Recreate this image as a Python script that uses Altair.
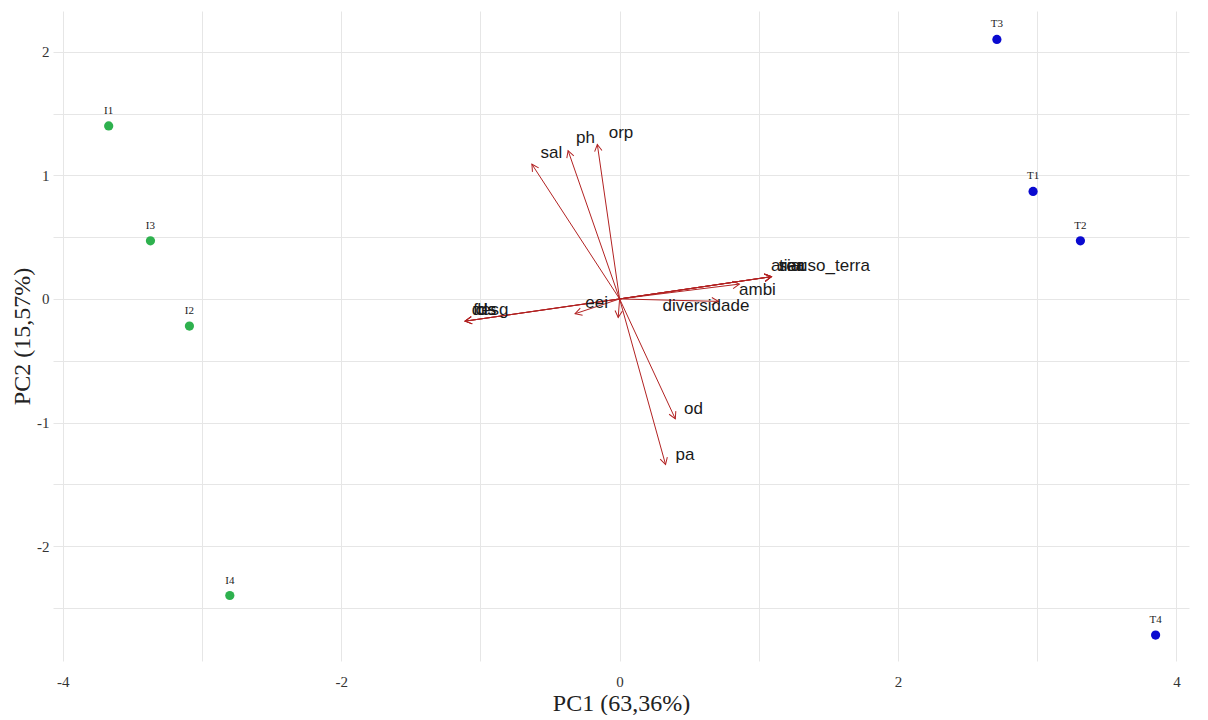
import altair as alt
import pandas as pd
import numpy as np

# Sample scores
sample_names = ["I1", "I2", "I3", "I4", "T1", "T2", "T3", "T4"]
sample_pc1 = [-3.67, -3.09, -3.37, -2.80, 2.97, 3.31, 2.71, 3.85]
sample_pc2 = [1.40, -0.22, 0.47, -2.40, 0.87, 0.47, 2.10, -2.72]
sample_group = ["I", "I", "I", "I", "T", "T", "T", "T"]

# Variable loadings (arrow tips)
var_names = ["sal", "ph", "orp", "uso_terra", "area", "tiar", "siar", "ambi",
             "diversidade", "fds", "desg", "cls", "eei", "", "od", "pa"]
var_pc1 = [-0.63, -0.37, -0.16, 1.09, 1.09, 1.09, 1.09, 0.86,
           0.71, -1.11, -1.11, -1.11, -0.32, -0.01, 0.40, 0.33]
var_pc2 = [1.09, 1.20, 1.25, 0.18, 0.18, 0.18, 0.18, 0.12,
           -0.02, -0.18, -0.18, -0.18, -0.12, -0.15, -0.97, -1.34]
# Label anchor positions
lab_pc1 = [-0.49, -0.245, 0.01, 1.54, 1.21, 1.23, 1.24, 0.99,
           0.62, -0.97, -0.93, -0.96, -0.165, 0.0, 0.53, 0.47]
lab_pc2 = [1.18, 1.30, 1.34, 0.27, 0.27, 0.27, 0.27, 0.07,
           -0.06, -0.09, -0.09, -0.09, -0.03, 0.0, -0.89, -1.26]

X_DOM = [-4.07, 4.09]
Y_DOM = [-2.93, 2.33]
W, H = 1136, 650

samples = pd.DataFrame({"name": sample_names, "pc1": sample_pc1,
                        "pc2": sample_pc2, "group": sample_group})
sx = W / (X_DOM[1] - X_DOM[0])
sy = H / (Y_DOM[1] - Y_DOM[0])
vars_df = pd.DataFrame({"name": var_names, "pc1": var_pc1, "pc2": var_pc2,
                        "lx": lab_pc1, "ly": lab_pc2})
vars_df["x0"] = 0.0
vars_df["y0"] = 0.0
vars_df["angle"] = (np.degrees(np.arctan2(vars_df["pc1"] * sx, vars_df["pc2"] * sy)) + 360) % 360

xs = alt.Scale(domain=X_DOM, nice=False, zero=False)
ys = alt.Scale(domain=Y_DOM, nice=False, zero=False)

x_axis = alt.Axis(values=list(range(-4, 5)),
                  labelExpr="datum.value % 2 == 0 ? (datum.value < 0 ? '-' : '') + abs(datum.value) : ''",
                  title="PC1 (63,36%)")
y_axis = alt.Axis(values=[v / 2 for v in range(-5, 5)],
                  labelExpr="datum.value % 1 == 0 ? (datum.value < 0 ? '-' : '') + abs(datum.value) : ''",
                  title="PC2 (15,57%)")

base_pts = alt.Chart(samples)
points = base_pts.mark_circle(size=85, opacity=1).encode(
    x=alt.X("pc1:Q", scale=xs, axis=x_axis),
    y=alt.Y("pc2:Q", scale=ys, axis=y_axis),
    color=alt.Color("group:N", scale=alt.Scale(domain=["I", "T"], range=["#2eb14e", "#0a0ad0"]), legend=None),
)
pt_labels = base_pts.mark_text(font="Liberation Serif", fontSize=11, dy=-15, color="#222222").encode(
    x=alt.X("pc1:Q", scale=xs), y=alt.Y("pc2:Q", scale=ys), text="name:N")

base_v = alt.Chart(vars_df)
arrows = base_v.mark_rule(color="#b22222", strokeWidth=1).encode(
    x=alt.X("x0:Q", scale=xs), y=alt.Y("y0:Q", scale=ys),
    x2="pc1:Q", y2="pc2:Q")
heads = base_v.mark_point(shape="M -0.55 1 L 0 0 L 0.55 1", filled=False, size=180,
                          color="#b22222", strokeWidth=1, opacity=1).encode(
    x=alt.X("pc1:Q", scale=xs), y=alt.Y("pc2:Q", scale=ys), angle=alt.Angle("angle:Q", scale=None))
v_labels = base_v.mark_text(font="Liberation Sans", fontSize=17, color="#1a1a1a").encode(
    x=alt.X("lx:Q", scale=xs), y=alt.Y("ly:Q", scale=ys), text="name:N")

chart = alt.layer(points, pt_labels, arrows, heads, v_labels).properties(
    width=W, height=H, padding={"left": 2, "top": 3, "right": 5, "bottom": 0}
).configure_view(stroke=None).configure_axis(
    grid=True, gridColor="#e6e6e6", gridWidth=1, ticks=False, domain=False,
    labelFont="Liberation Serif", labelFontSize=15, labelColor="#333333",
    titleFont="Liberation Serif", titleFontSize=24, titleFontWeight="normal", titleColor="#222222",
).configure_axisX(labelPadding=13, titlePadding=2).configure_axisY(labelPadding=4, titlePadding=2)

chart.save("out.html", embed_options={"renderer": "svg", "actions": False})
